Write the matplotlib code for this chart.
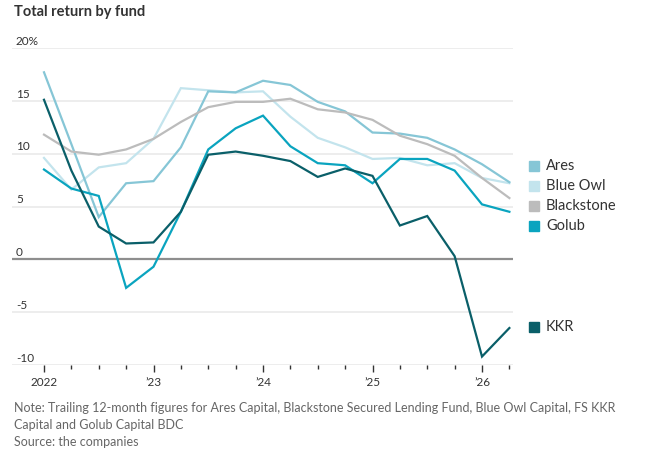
import matplotlib
matplotlib.use("Agg")
import matplotlib.pyplot as plt
import matplotlib.transforms as mtransforms

plt.rcParams['font.family'] = ['Lato', 'DejaVu Sans']

# quarterly points, 2022 Q1 .. 2026 Q2
quarters = ['2022Q1', '2022Q2', '2022Q3', '2022Q4', '2023Q1', '2023Q2', '2023Q3', '2023Q4',
            '2024Q1', '2024Q2', '2024Q3', '2024Q4', '2025Q1', '2025Q2', '2025Q3', '2025Q4',
            '2026Q1', '2026Q2']

ares = [17.7, 10.9, 4.0, 7.2, 7.4, 10.6, 15.9, 15.8, 16.9, 16.5, 14.9, 14.0,
        12.0, 11.9, 11.5, 10.4, 9.0, 7.3]
blue_owl = [9.6, 6.6, 8.7, 9.1, 11.4, 16.2, 16.0, 15.8, 15.9, 13.5, 11.5, 10.6,
            9.5, 9.6, 8.9, 9.1, 7.7, 7.2]
blackstone = [11.8, 10.2, 9.9, 10.4, 11.4, 13.0, 14.4, 14.9, 14.9, 15.2, 14.2, 13.9,
              13.2, 11.7, 10.9, 9.8, 7.7, 5.8]
golub = [8.5, 6.7, 6.0, -2.7, -0.7, 4.5, 10.4, 12.4, 13.6, 10.7, 9.1, 8.9,
         7.2, 9.5, 9.5, 8.4, 5.2, 4.5]
kkr = [15.1, 8.4, 3.1, 1.5, 1.6, 4.5, 9.9, 10.2, 9.8, 9.3, 7.8, 8.6,
       7.9, 3.2, 4.1, 0.3, -9.2, -6.5]

series = [('Ares', ares, '#86c6d6'),
          ('Blue Owl', blue_owl, '#c3e4ed'),
          ('Blackstone', blackstone, '#bcbcbc'),
          ('Golub', golub, '#0aa4bf'),
          ('KKR', kkr, '#0a5f69')]

y_ticks = [20, 15, 10, 5, 0, -5, -10]
y_labels = ['20%', '15', '10', '5', '0', '-5', '-10']
year_ticks = [2022, 2023, 2024, 2025, 2026]
year_labels = ['2022', '\u201923', '\u201924', '\u201925', '\u201926']

x = [int(q[:4]) + (int(q[5]) - 1) / 4 for q in quarters]

fig = plt.figure(figsize=(6.52, 4.54), dpi=100)
W, H = 652, 454
ax = fig.add_axes([12 / W, (H - 365) / H, (513 - 12) / W, (365 - 48) / H])

# gridlines
for v in y_ticks:
    if v == 0:
        ax.axhline(v, color='#8e8e8e', lw=1.6, zorder=3)
    else:
        ax.axhline(v, color='#ededed', lw=1.4, zorder=1)

for name, vals, col in series:
    ax.plot(x, vals, color=col, lw=1.6, zorder=4 if name != 'Blue Owl' else 2,
            solid_joinstyle='miter', clip_on=False)

ax.set_xlim(2022 - 32 / 109.5, 2022 + 469 / 109.5)
ax.set_ylim(-10, 20)

for s in ax.spines.values():
    s.set_visible(False)
ax.set_yticks([])
ax.set_xticks(year_ticks)
ax.set_xticklabels(year_labels)
ax.set_xticks(x, minor=True)
ax.tick_params(axis='x', which='major', length=5, width=1, color='#333333',
               labelsize=8.5, labelcolor='#333333', pad=4)
ax.tick_params(axis='x', which='minor', length=3, width=1, color='#333333')

trans = mtransforms.blended_transform_factory(ax.transAxes, ax.transData)
for v, lab in zip(y_ticks, y_labels):
    ax.text(4 / 501, v + 0.12, lab, transform=trans, ha='left', va='bottom',
            fontsize=8.5, color='#333333')

# legend labels
leg_y = {'Ares': 166, 'Blue Owl': 186, 'Blackstone': 206, 'Golub': 226, 'KKR': 327}
for name, vals, col in series:
    yy = leg_y[name]
    fig.patches.append(plt.Rectangle((529 / W, (H - yy - 5) / H), 10 / W, 10 / H,
                                     transform=fig.transFigure, color=col))
    fig.text(546 / W, (H - yy) / H, name, ha='left', va='center', fontsize=10.5,
             color='#333333')

fig.text(14 / W, (H - 12) / H, 'Total return by fund', ha='left', va='center',
         fontsize=10.5, fontweight='bold', color='#333333')

fig.text(14 / W, (H - 408) / H,
         'Note: Trailing 12-month figures for Ares Capital, Blackstone Secured Lending Fund, Blue Owl Capital, FS KKR',
         ha='left', va='center', fontsize=9, color='#666666')
fig.text(14 / W, (H - 425) / H, 'Capital and Golub Capital BDC',
         ha='left', va='center', fontsize=9, color='#666666')
fig.text(14 / W, (H - 442) / H, 'Source: the companies',
         ha='left', va='center', fontsize=9, color='#666666')

fig.savefig('out.png', dpi=100)
